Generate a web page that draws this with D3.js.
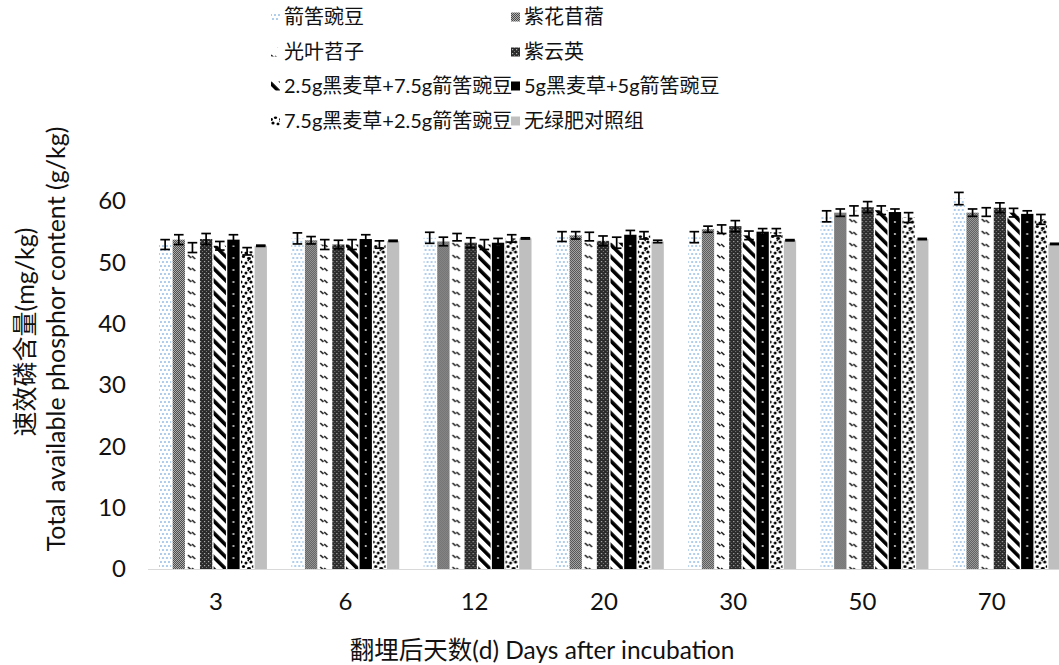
<!DOCTYPE html>
<html>
<head>
<meta charset="utf-8">
<script src="https://cdn.jsdelivr.net/npm/d3@7"></script>
<style>
  body { margin: 0; background: #fff; }
  svg { display: block; }
  text { font-family: Lato, "Noto Sans CJK SC", sans-serif; fill: #111; }
</style>
</head>
<body>
<svg id="chart" width="1059" height="665"></svg>
<script>
// Days after incubation
const categories = ["3", "6", "12", "20", "30", "50", "70"];
const seriesNames = [
  "箭筈豌豆", "紫花苜蓿", "光叶苕子", "紫云英",
  "2.5g黑麦草+7.5g箭筈豌豆", "5g黑麦草+5g箭筈豌豆",
  "7.5g黑麦草+2.5g箭筈豌豆", "无绿肥对照组"
];
const yTicks = [0, 10, 20, 30, 40, 50, 60];

// Available phosphorus, mean per treatment (mg/kg)
const vetch      = [52.9, 53.9, 54.0, 54.2, 54.1, 57.5, 60.4];
const alfalfa    = [53.7, 53.6, 53.4, 54.4, 55.4, 58.1, 58.1];
const hairyVetch = [52.4, 52.9, 54.1, 54.2, 55.4, 58.4, 58.2];
const milkVetch  = [53.8, 52.9, 53.2, 53.5, 55.9, 59.0, 58.9];
const mixA       = [52.7, 52.9, 52.9, 53.2, 54.4, 58.5, 58.1];
const mixB       = [53.7, 53.8, 53.2, 54.5, 55.0, 58.2, 57.9];
const mixC       = [51.8, 52.9, 53.9, 54.4, 54.9, 57.3, 57.0];
const control    = [52.7, 53.5, 53.9, 53.4, 53.6, 53.8, 53.0];

// Standard errors
const vetchErr      = [0.8, 0.9, 0.9, 0.8, 0.9, 0.9, 1.0];
const alfalfaErr    = [0.8, 0.6, 0.7, 0.6, 0.5, 0.6, 0.6];
const hairyVetchErr = [0.8, 0.8, 0.6, 0.7, 0.7, 0.8, 0.7];
const milkVetchErr  = [0.9, 0.7, 0.8, 0.8, 0.9, 0.9, 0.8];
const mixAErr       = [0.7, 0.8, 0.8, 0.9, 0.7, 0.7, 0.7];
const mixBErr       = [0.8, 0.7, 0.7, 0.7, 0.5, 0.5, 0.5];
const mixCErr       = [0.6, 0.6, 0.6, 0.6, 0.6, 0.8, 0.8];
const controlErr    = [0.1, 0.1, 0.1, 0.2, 0.1, 0.1, 0.1];

const seriesValues = [vetch, alfalfa, hairyVetch, milkVetch, mixA, mixB, mixC, control];
const seriesErrors = [vetchErr, alfalfaErr, hairyVetchErr, milkVetchErr, mixAErr, mixBErr, mixCErr, controlErr];

const svg = d3.select("#chart");
const defs = svg.append("defs");

// bar groups and category labels each get their own band scale
const x0 = d3.scaleBand().domain(categories).range([146.8, 1072.9])
  .paddingInner(0.184).paddingOuter(0.092);
const xLabel = d3.scaleBand().domain(categories).range([151.4, 1056.4]);
const x1 = d3.scaleBand().domain(d3.range(seriesNames.length))
  .range([0, x0.bandwidth()]).paddingInner(0.1);
const y = d3.scaleLinear().domain([0, 60]).range([569, 201]);

const bw = x1.bandwidth();
const step = x0.step();

// ---- fill patterns -------------------------------------------------------
function makePattern(id, w, h, build, opts = {}) {
  const p = defs.append("pattern").attr("id", id)
    .attr("patternUnits", "userSpaceOnUse")
    .attr("width", w).attr("height", h);
  if (opts.transform) p.attr("patternTransform", opts.transform);
  build(p, w, h);
  return "url(#" + id + ")";
}

const dots = p => {
  p.append("rect").attr("width", 8).attr("height", 8).attr("fill", "#fff");
  [[2, 2], [6, 2], [0, 6], [4, 6], [8, 6]].forEach(([a, b]) =>
    p.append("circle").attr("cx", a).attr("cy", b).attr("r", 0.95).attr("fill", "#8fb9e3"));
};
const checker = p => {
  p.append("rect").attr("width", 2).attr("height", 2).attr("fill", "#b0b0b0");
  p.append("rect").attr("width", 1).attr("height", 1).attr("fill", "#4a4a4a");
  p.append("rect").attr("x", 1).attr("y", 1).attr("width", 1).attr("height", 1).attr("fill", "#4a4a4a");
};
const dashPairs = cx => (p, w, h) => {
  p.append("rect").attr("width", w).attr("height", h).attr("fill", "#fff");
  [[-4.5, 3], [-0.5, 4]].forEach(([dx, dy]) =>
    p.append("line").attr("x1", cx + dx).attr("y1", dy).attr("x2", cx + dx + 3.2).attr("y2", dy + 3)
      .attr("stroke", "#222").attr("stroke-width", 1.7));
};
const darkGrid = p => {
  p.append("rect").attr("width", 4).attr("height", 4).attr("fill", "#2b2b2b");
  p.append("rect").attr("x", 1).attr("y", 1).attr("width", 1.2).attr("height", 1.2).attr("fill", "#b0b0b0");
  p.append("rect").attr("x", 3).attr("y", 3).attr("width", 1).attr("height", 1).attr("fill", "#777");
};
const stripes = p => {
  p.append("rect").attr("width", 8.5).attr("height", 8.5).attr("fill", "#fff");
  p.append("rect").attr("width", 3.6).attr("height", 8.5).attr("fill", "#000");
};
const blackDots = cx => (p, w, h) => {
  p.append("rect").attr("width", w).attr("height", h).attr("fill", "#000");
  p.append("circle").attr("cx", cx).attr("cy", 6).attr("r", 1.1).attr("fill", "#c8c8c8");
};
const blobs = p => {
  p.append("rect").attr("width", 10).attr("height", 10).attr("fill", "#fff");
  [[2, 2, 1.6], [7, 3, 1.5], [4.5, 6.5, 1.6], [9.5, 8.5, 1.4], [0.5, 8.5, 1.4], [9.5, 0, 1.2]].forEach(([a, b, r]) =>
    p.append("circle").attr("cx", a).attr("cy", b).attr("r", r).attr("fill", "#000"));
};
const flat = p => {
  p.append("rect").attr("width", 4).attr("height", 4).attr("fill", "#bfbfbf");
};

// motif-centred patterns tile once per group, in each group's own coordinates
function fillsFor(prefix, centreOf, w) {
  return [
    makePattern(prefix + "0", 8, 8, dots),
    makePattern(prefix + "1", 2, 2, checker),
    makePattern(prefix + "2", w, 12, dashPairs(centreOf(2))),
    makePattern(prefix + "3", 4, 4, darkGrid),
    makePattern(prefix + "4", 8.5, 8.5, stripes, { transform: "rotate(-45)" }),
    makePattern(prefix + "5", w, 12, blackDots(centreOf(5))),
    makePattern(prefix + "6", 10, 10, blobs),
    makePattern(prefix + "7", 4, 4, flat)
  ];
}

const barFills = fillsFor("bar", i => x1(i) + bw / 2, step);

// ---- baseline --------------------------------------------------------------
svg.append("line")
  .attr("x1", 148).attr("x2", 1059)
  .attr("y1", y(0) + 0.5).attr("y2", y(0) + 0.5)
  .attr("stroke", "#d9d9d9").attr("stroke-width", 1);

// ---- bars ------------------------------------------------------------------
const rows = categories.map((c, ci) => ({
  cat: c,
  bars: seriesNames.map((s, si) => ({ si, v: seriesValues[si][ci], e: seriesErrors[si][ci] }))
}));

const groups = svg.append("g").selectAll("g").data(rows).join("g")
  .attr("transform", d => `translate(${x0(d.cat)},0)`);

groups.selectAll("rect").data(d => d.bars).join("rect")
  .attr("x", d => x1(d.si))
  .attr("width", bw)
  .attr("y", d => y(d.v))
  .attr("height", d => y(0) - y(d.v))
  .attr("fill", d => barFills[d.si]);

// error bars
const eb = groups.selectAll("g.err").data(d => d.bars).join("g").attr("class", "err")
  .attr("stroke", "#000").attr("stroke-width", 1.7);
const capW = 4.8;
eb.append("line")
  .attr("x1", d => x1(d.si) + bw / 2).attr("x2", d => x1(d.si) + bw / 2)
  .attr("y1", d => y(d.v + d.e)).attr("y2", d => y(d.v - d.e));
eb.append("line")
  .attr("x1", d => x1(d.si) + bw / 2 - capW).attr("x2", d => x1(d.si) + bw / 2 + capW)
  .attr("y1", d => y(d.v + d.e)).attr("y2", d => y(d.v + d.e));
eb.append("line")
  .attr("x1", d => x1(d.si) + bw / 2 - capW).attr("x2", d => x1(d.si) + bw / 2 + capW)
  .attr("y1", d => y(d.v - d.e)).attr("y2", d => y(d.v - d.e));

// ---- axes ------------------------------------------------------------------
const yAxis = svg.append("g").attr("transform", "translate(126,0)")
  .call(d3.axisLeft(y).tickValues(yTicks).tickSize(0).tickPadding(0));
yAxis.select(".domain").remove();
yAxis.selectAll("text").attr("font-size", 24).attr("font-family", "Lato, sans-serif").attr("fill", "#111");

const xAxis = svg.append("g").attr("transform", `translate(0,${y(0)})`)
  .call(d3.axisBottom(xLabel).tickSize(0).tickPadding(24));
xAxis.select(".domain").remove();
xAxis.selectAll("text").attr("font-size", 24).attr("font-family", "Lato, sans-serif").attr("fill", "#111");

// axis titles
svg.append("text")
  .attr("transform", "translate(542,659)")
  .attr("text-anchor", "middle").attr("font-size", 24.5)
  .text("翻埋后天数(d) Days after incubation");

svg.append("text")
  .attr("transform", "translate(34,332) rotate(-90)")
  .attr("text-anchor", "middle").attr("font-size", 25)
  .attr("font-family", "'Noto Sans CJK SC', sans-serif")
  .text("速效磷含量(mg/kg)");

svg.append("text")
  .attr("transform", "translate(65,339) rotate(-90)")
  .attr("text-anchor", "middle").attr("font-size", 25)
  .text("Total available phosphor content (g/kg)");

// ---- legend ----------------------------------------------------------------
const sw = 9;
const legendFills = fillsFor("leg", () => sw / 2, sw);
const legendCols = [271, 511];
const legendRows = [17, 52, 86, 121];
const legend = svg.append("g").selectAll("g").data(seriesNames).join("g")
  .attr("transform", (d, i) => `translate(${legendCols[i % 2]},${legendRows[Math.floor(i / 2)]})`);
legend.append("rect")
  .attr("x", 0).attr("y", -sw / 2).attr("width", sw).attr("height", sw)
  .attr("fill", (d, i) => legendFills[i]);
legend.append("text")
  .attr("x", sw + 4).attr("dy", "0.35em").attr("font-size", 20)
  .text(d => d);
</script>
</body>
</html>
